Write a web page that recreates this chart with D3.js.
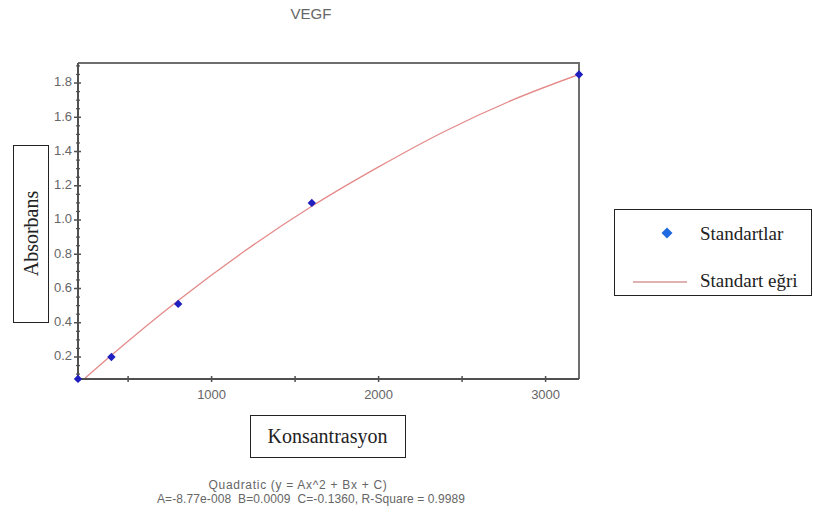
<!DOCTYPE html>
<html>
<head>
<meta charset="utf-8">
<script src="https://cdn.jsdelivr.net/npm/d3@7"></script>
<style>
  html, body { margin: 0; padding: 0; background: #fff; }
  svg { display: block; }
</style>
</head>
<body>
<div id="chart"></div>
<script>
// Standards (concentration vs absorbance)
const stdConc = [200, 400, 800, 1600, 3200];
const stdAbs = [0.072, 0.20, 0.51, 1.10, 1.85];

// fitted curve
const fitConc = [200, 400, 800, 1200, 1600, 2000, 2400, 2800, 3200];
const fitAbs = [0.04, 0.21, 0.53, 0.82, 1.08, 1.31, 1.52, 1.70, 1.85];

const xTickVals = [500, 1000, 1500, 2000, 2500, 3000];
const xTickLabels = ['', '1000', '', '2000', '', '3000'];
const yTickVals = [0.2, 0.4, 0.6, 0.8, 1.0, 1.2, 1.4, 1.6, 1.8];
const yMinorVals = [0.1, 0.15, 0.25, 0.3, 0.35, 0.45, 0.5, 0.55, 0.65, 0.7, 0.75, 0.85, 0.9, 0.95,
  1.05, 1.1, 1.15, 1.25, 1.3, 1.35, 1.45, 1.5, 1.55, 1.65, 1.7, 1.75, 1.85, 1.9];

const title = 'VEGF';
const legendNames = ['Standartlar', 'Standart eğri'];
const fitLines = ['Quadratic (y = Ax^2 + Bx + C)', 'A=-8.77e-008  B=0.0009  C=-0.1360, R-Square = 0.9989'];

const W = 813, H = 523;
const plot = { left: 78, right: 579, top: 63, bottom: 379 };

const svg = d3.select('#chart').append('svg')
  .attr('width', W).attr('height', H);

const x = d3.scaleLinear().domain([200, 3200]).range([plot.left, plot.right]);
const y = d3.scaleLinear().domain([0.0715, 1.917]).range([plot.bottom, plot.top]);

const sans = 'Liberation Sans, Arial, sans-serif';
const serif = 'Liberation Serif, Times New Roman, serif';
const axisCol = '#505050';
const labelCol = '#666';

// gedrehtes Quadrat statt d3.symbolDiamond (das ist zu schmal)
const diamondPath = s => `M0,${-s}L${s},0L0,${s}L${-s},0Z`;

// ---- title ----
svg.append('text')
  .attr('x', 311).attr('y', 15)
  .attr('text-anchor', 'middle').attr('dominant-baseline', 'middle')
  .attr('font-family', sans).attr('font-size', 15)
  .attr('fill', labelCol)
  .text(title);

// ---- frame top & right ----
svg.append('path')
  .attr('d', `M${plot.left},${plot.top}H${plot.right}V${plot.bottom}`)
  .attr('fill', 'none')
  .attr('stroke', '#6e6e6e')
  .attr('stroke-width', 2);

// ---- clip for the curve ----
svg.append('clipPath').attr('id', 'clip')
  .append('rect')
  .attr('x', plot.left).attr('y', plot.top)
  .attr('width', plot.right - plot.left).attr('height', plot.bottom - plot.top);

// ---- fitted curve ----
const line = d3.line()
  .x((d, i) => x(fitConc[i]))
  .y(d => y(d))
  .curve(d3.curveMonotoneX);

svg.append('path')
  .datum(fitAbs)
  .attr('clip-path', 'url(#clip)')
  .attr('d', line)
  .attr('fill', 'none')
  .attr('stroke', '#e58a8a')
  .attr('stroke-width', 1.3);

// ---- axes (custom cross ticks) ----
const gX = svg.append('g').attr('class', 'axis axis-x');
gX.append('line')
  .attr('x1', plot.left).attr('x2', plot.right)
  .attr('y1', plot.bottom).attr('y2', plot.bottom)
  .attr('stroke', axisCol).attr('stroke-width', 2);
gX.selectAll('line.tick')
  .data(xTickVals)
  .join('line')
  .attr('class', 'tick')
  .attr('x1', d => x(d)).attr('x2', d => x(d))
  .attr('y1', plot.bottom - 3).attr('y2', plot.bottom + 3)
  .attr('stroke', axisCol).attr('stroke-width', 1.5);
gX.selectAll('text')
  .data(xTickVals)
  .join('text')
  .attr('x', d => x(d))
  .attr('y', 396)
  .attr('text-anchor', 'middle').attr('dominant-baseline', 'middle')
  .attr('font-family', sans).attr('font-size', 13)
  .attr('fill', labelCol)
  .text((d, i) => xTickLabels[i]);

const gY = svg.append('g').attr('class', 'axis axis-y');
gY.append('line')
  .attr('x1', plot.left).attr('x2', plot.left)
  .attr('y1', plot.top).attr('y2', plot.bottom)
  .attr('stroke', axisCol).attr('stroke-width', 2);
gY.selectAll('line.minor')
  .data(yMinorVals)
  .join('line')
  .attr('class', 'minor')
  .attr('x1', plot.left - 2).attr('x2', plot.left + 2)
  .attr('y1', d => y(d)).attr('y2', d => y(d))
  .attr('stroke', axisCol).attr('stroke-width', 1.2);
gY.selectAll('line.major')
  .data(yTickVals)
  .join('line')
  .attr('class', 'major')
  .attr('x1', plot.left - 4).attr('x2', plot.left + 3)
  .attr('y1', d => y(d)).attr('y2', d => y(d))
  .attr('stroke', axisCol).attr('stroke-width', 1.5);
gY.selectAll('text')
  .data(yTickVals)
  .join('text')
  .attr('x', 72)
  .attr('y', d => y(d))
  .attr('text-anchor', 'end').attr('dominant-baseline', 'middle')
  .attr('font-family', sans).attr('font-size', 13)
  .attr('fill', labelCol)
  .text(d => d.toFixed(1));

// ---- standards (diamonds) ----
svg.append('g').attr('class', 'points')
  .selectAll('path')
  .data(stdAbs)
  .join('path')
  .attr('transform', (d, i) => `translate(${x(stdConc[i])},${y(d)})`)
  .attr('d', diamondPath(4.2))
  .attr('fill', '#2020c0');

// ---- axis title boxes ----
const boxes = [
  { text: 'Absorbans', x: 13, y: 145, w: 35, h: 177, rotate: true },
  { text: 'Konsantrasyon', x: 250, y: 415, w: 155, h: 42, rotate: false },
];
boxes.forEach(b => {
  svg.append('rect')
    .attr('x', b.x + 0.5).attr('y', b.y + 0.5)
    .attr('width', b.w).attr('height', b.h)
    .attr('fill', '#fff').attr('stroke', '#222').attr('stroke-width', 1);
  const cx = b.x + b.w / 2, cy = b.y + b.h / 2;
  svg.append('text')
    .attr('transform', `translate(${cx},${cy})${b.rotate ? ' rotate(-90)' : ''}`)
    .attr('text-anchor', 'middle').attr('dominant-baseline', 'central')
    .attr('font-family', serif).attr('font-size', 20)
    .attr('fill', '#222')
    .text(b.text);
});

// ---- legend ----
const lg = svg.append('g').attr('class', 'legend');
lg.append('rect')
  .attr('x', 614.5).attr('y', 209.5).attr('width', 197).attr('height', 86)
  .attr('fill', '#fff').attr('stroke', '#222').attr('stroke-width', 1);
lg.append('path')
  .attr('transform', 'translate(667,233)')
  .attr('d', diamondPath(5.5))
  .attr('fill', '#1f6ae0');
lg.append('line')
  .attr('x1', 633).attr('x2', 687).attr('y1', 282).attr('y2', 282)
  .attr('stroke', '#c06464').attr('stroke-width', 1.2);
lg.selectAll('text')
  .data(legendNames)
  .join('text')
  .attr('x', 700)
  .attr('y', (d, i) => i ? 280 : 233)
  .attr('dominant-baseline', 'central')
  .attr('font-family', serif).attr('font-size', 19)
  .attr('fill', '#222')
  .text(d => d);

// ---- fit info ----
svg.selectAll('text.fit')
  .data(fitLines)
  .join('text')
  .attr('class', 'fit')
  .attr('x', (d, i) => i ? 311 : 298)
  .attr('y', (d, i) => 486 + i * 14)
  .attr('text-anchor', 'middle').attr('dominant-baseline', 'middle')
  .attr('font-family', sans).attr('font-size', 12)
  .attr('letter-spacing', (d, i) => i ? 0.1 : 0.7)
  .attr('fill', labelCol)
  .style('white-space', 'pre')
  .text(d => d);
</script>
</body>
</html>
